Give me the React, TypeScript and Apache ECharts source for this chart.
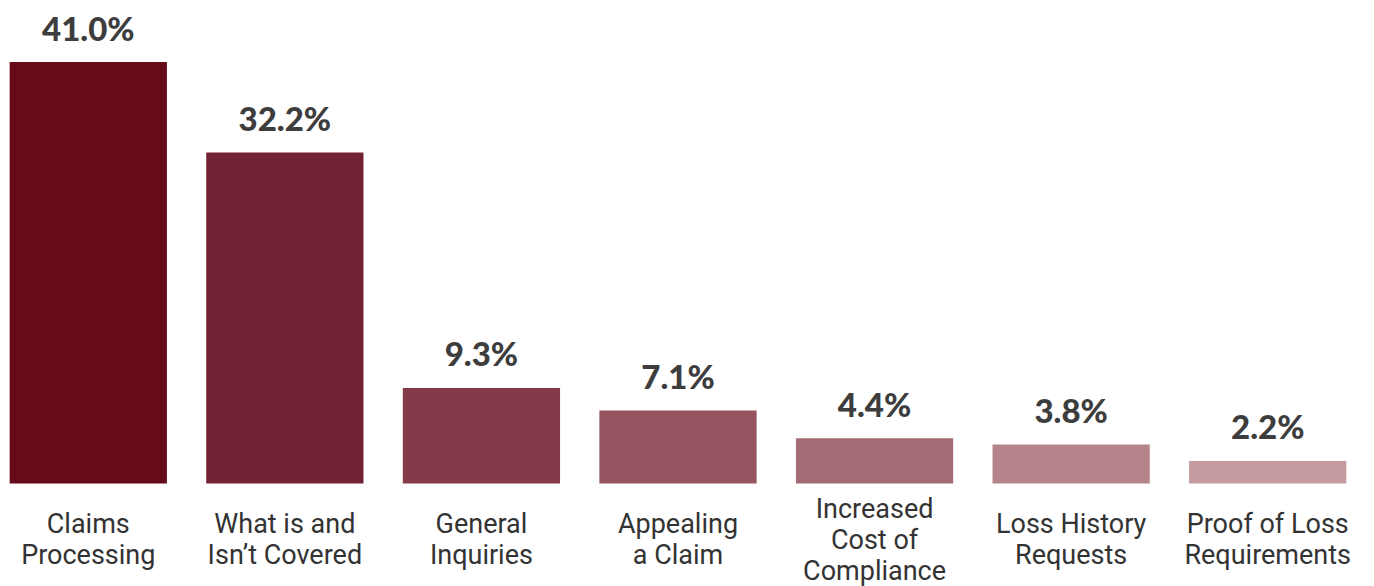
import React, { useEffect, useRef } from "react";
import * as echarts from "echarts";

const categories = [
  "Claims\nProcessing",
  "What is and\nIsn\u2019t Covered",
  "General\nInquiries",
  "Appealing\na Claim",
  "Increased\nCost of\nCompliance",
  "Loss History\nRequests",
  "Proof of Loss\nRequirements",
];
const values = [41.0, 32.2, 9.3, 7.1, 4.4, 3.8, 2.2];
const barColors = ["#660b1a", "#722232", "#843a48", "#965461", "#a46c75", "#b5848a", "#c59ba1"];

export default function App() {
  const ref = useRef<HTMLDivElement>(null);
  useEffect(() => {
    if (!ref.current) return;
    const chart = echarts.init(ref.current, undefined, { renderer: "svg" });
    chart.setOption({
      animation: false,
      grid: { left: 0, right: 8, top: 62, bottom: 99, containLabel: false },
      xAxis: {
        type: "category",
        data: categories,
        axisLine: { show: false },
        axisTick: { show: false },
        axisLabel: {
          interval: 0,
          margin: 56,
          verticalAlign: "middle",
          fontFamily: "Roboto",
          fontSize: 27,
          lineHeight: 31,
          color: "#333333",
        },
      },
      yAxis: { type: "value", min: 0, max: 41, show: false, splitLine: { show: false } },
      series: [
        {
          type: "bar",
          data: values.map((v, i) => ({ value: v, itemStyle: { color: barColors[i] } })),
          barCategoryGap: "20%",
          label: {
            show: true,
            position: "top",
            distance: 18,
            formatter: (p: any) => p.value.toFixed(1) + "%",
            fontFamily: "Lato",
            fontWeight: 900,
            fontSize: 33,
            color: "#3d3d3d",
          },
        },
      ],
    });
    return () => chart.dispose();
  }, []);
  return (
    <div
      ref={ref}
      style={{ position: "fixed", left: -10, top: 0, width: 1384, height: 586, background: "#ffffff" }}
    />
  );
}
